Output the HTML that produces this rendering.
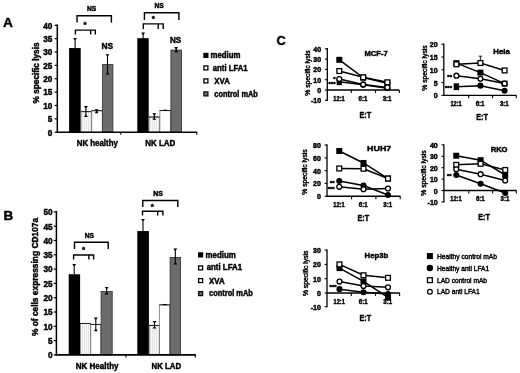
<!DOCTYPE html>
<html lang="en"><head><meta charset="utf-8"><title>Figure</title>
<style>html,body{margin:0;padding:0;background:#fff;overflow:hidden}svg{display:block}text{font-family:'Liberation Sans', sans-serif;font-weight:bold;fill:#000;stroke:#000;stroke-width:0.45px;stroke-linejoin:round}text.n{font-weight:normal;stroke-width:0.42px}</style>
</head><body>
<svg width="520" height="373" viewBox="0 0 520 373">
<defs><pattern id="dots" width="2" height="2" patternUnits="userSpaceOnUse"><rect width="2" height="2" fill="#f8f8f8"/><rect width="1" height="2" fill="#e9e9e9"/><rect width="1" height="1" fill="#dfdfdf"/></pattern>
<filter id="soft" x="0" y="0" width="520" height="373" filterUnits="userSpaceOnUse"><feGaussianBlur stdDeviation="0.35"/></filter></defs>
<rect width="520" height="373" fill="#fff"/>
<g filter="url(#soft)">
<rect width="520" height="373" fill="#fff"/>
<text x="3.0" y="26.5" font-size="13.7">A</text>
<text x="3.4" y="220.3" font-size="13.4">B</text>
<text x="276.6" y="45.2" font-size="12.8">C</text>
<rect x="69.10" y="48.03" width="11.60" height="84.17" fill="#000"/>
<rect x="81.00" y="111.66" width="10.50" height="20.54" fill="url(#dots)" stroke="#6a6a6a" stroke-width="0.7"/>
<line x1="80.70" y1="111.66" x2="91.80" y2="111.66" stroke="#111" stroke-width="0.9"/>
<rect x="91.80" y="110.72" width="10.40" height="21.48" fill="#fff" stroke="#6a6a6a" stroke-width="0.7"/>
<line x1="91.50" y1="110.72" x2="102.50" y2="110.72" stroke="#111" stroke-width="0.9"/>
<rect x="102.60" y="64.46" width="10.30" height="67.74" fill="#6c6c6c" stroke="#2a2a2a" stroke-width="0.8"/>
<line x1="75.10" y1="38.50" x2="75.10" y2="48.00" stroke="#000" stroke-width="1.1"/>
<path d="M73.10,37.90h4.00l-1.50,1.9h-1z" fill="#000"/>
<line x1="85.90" y1="106.60" x2="85.90" y2="116.40" stroke="#000" stroke-width="1.1"/>
<path d="M83.90,106.00h4.00l-1.50,1.9h-1z" fill="#000"/>
<path d="M83.90,117.00h4.00l-1.50,-1.9h-1z" fill="#000"/>
<line x1="96.60" y1="109.90" x2="96.60" y2="112.60" stroke="#000" stroke-width="1.1"/>
<path d="M94.60,109.30h4.00l-1.50,1.9h-1z" fill="#000"/>
<path d="M94.60,113.20h4.00l-1.50,-1.9h-1z" fill="#000"/>
<line x1="107.50" y1="54.80" x2="107.50" y2="74.00" stroke="#000" stroke-width="1.1"/>
<path d="M105.50,54.20h4.00l-1.50,1.9h-1z" fill="#000"/>
<path d="M105.50,74.60h4.00l-1.50,-1.9h-1z" fill="#000"/>
<rect x="137.30" y="38.15" width="11.40" height="94.05" fill="#000"/>
<rect x="149.00" y="117.00" width="10.60" height="15.20" fill="url(#dots)" stroke="#6a6a6a" stroke-width="0.7"/>
<line x1="148.70" y1="117.00" x2="159.90" y2="117.00" stroke="#111" stroke-width="0.9"/>
<rect x="159.90" y="110.59" width="10.60" height="21.61" fill="#fff" stroke="#6a6a6a" stroke-width="0.7"/>
<line x1="159.60" y1="110.59" x2="170.80" y2="110.59" stroke="#111" stroke-width="0.9"/>
<rect x="170.90" y="50.04" width="10.60" height="82.16" fill="#6c6c6c" stroke="#2a2a2a" stroke-width="0.8"/>
<line x1="143.10" y1="33.20" x2="143.10" y2="38.30" stroke="#000" stroke-width="1.1"/>
<path d="M141.10,32.60h4.00l-1.50,1.9h-1z" fill="#000"/>
<line x1="154.30" y1="113.90" x2="154.30" y2="119.20" stroke="#000" stroke-width="1.1"/>
<path d="M152.30,113.30h4.00l-1.50,1.9h-1z" fill="#000"/>
<path d="M152.30,119.80h4.00l-1.50,-1.9h-1z" fill="#000"/>
<line x1="163.40" y1="110.29" x2="167.00" y2="110.29" stroke="#000" stroke-width="1.2"/>
<line x1="176.20" y1="47.60" x2="176.20" y2="51.60" stroke="#000" stroke-width="1.1"/>
<path d="M174.20,47.00h4.00l-1.50,1.9h-1z" fill="#000"/>
<path d="M174.20,52.20h4.00l-1.50,-1.9h-1z" fill="#000"/>
<line x1="57.30" y1="24.42" x2="57.30" y2="133.00" stroke="#000" stroke-width="1.5"/>
<line x1="56.60" y1="132.20" x2="197.20" y2="132.20" stroke="#000" stroke-width="1.6"/>
<line x1="120.80" y1="132.20" x2="120.80" y2="134.70" stroke="#000" stroke-width="1.1"/>
<line x1="196.80" y1="132.20" x2="196.80" y2="134.70" stroke="#000" stroke-width="1.1"/>
<line x1="54.60" y1="132.20" x2="57.30" y2="132.20" stroke="#000" stroke-width="1.2"/>
<text x="52.3" y="135.5" font-size="8.2" text-anchor="end">0</text>
<line x1="54.60" y1="118.84" x2="57.30" y2="118.84" stroke="#000" stroke-width="1.2"/>
<text x="52.3" y="122.13999999999999" font-size="8.2" text-anchor="end">5</text>
<line x1="54.60" y1="105.48" x2="57.30" y2="105.48" stroke="#000" stroke-width="1.2"/>
<text x="52.3" y="108.77999999999999" font-size="8.2" text-anchor="end">10</text>
<line x1="54.60" y1="92.12" x2="57.30" y2="92.12" stroke="#000" stroke-width="1.2"/>
<text x="52.3" y="95.41999999999997" font-size="8.2" text-anchor="end">15</text>
<line x1="54.60" y1="78.76" x2="57.30" y2="78.76" stroke="#000" stroke-width="1.2"/>
<text x="52.3" y="82.05999999999999" font-size="8.2" text-anchor="end">20</text>
<line x1="54.60" y1="65.40" x2="57.30" y2="65.40" stroke="#000" stroke-width="1.2"/>
<text x="52.3" y="68.69999999999999" font-size="8.2" text-anchor="end">25</text>
<line x1="54.60" y1="52.04" x2="57.30" y2="52.04" stroke="#000" stroke-width="1.2"/>
<text x="52.3" y="55.339999999999975" font-size="8.2" text-anchor="end">30</text>
<line x1="54.60" y1="38.68" x2="57.30" y2="38.68" stroke="#000" stroke-width="1.2"/>
<text x="52.3" y="41.979999999999976" font-size="8.2" text-anchor="end">35</text>
<line x1="54.60" y1="25.32" x2="57.30" y2="25.32" stroke="#000" stroke-width="1.2"/>
<text x="52.3" y="28.61999999999998" font-size="8.2" text-anchor="end">40</text>
<text x="39.4" y="72.9" font-size="9.2" text-anchor="middle" textLength="61.0" lengthAdjust="spacingAndGlyphs" transform="rotate(-90 39.4 72.9)">% specific lysis</text>
<text x="76.7" y="146.3" font-size="9.0" textLength="41.2" lengthAdjust="spacingAndGlyphs">NK healthy</text>
<text x="145.3" y="146.3" font-size="9.0" textLength="30.0" lengthAdjust="spacingAndGlyphs">NK LAD</text>
<rect x="203.30" y="52.80" width="5.20" height="5.20" fill="#000"/>
<text x="210.5" y="58.0" font-size="8.4" textLength="30.0" lengthAdjust="spacingAndGlyphs">medium</text>
<rect x="203.90" y="65.90" width="4.00" height="4.00" fill="#fff" stroke="#000" stroke-width="1.3"/>
<text x="212.8" y="70.7" font-size="8.4" textLength="34.8" lengthAdjust="spacingAndGlyphs">anti LFA1</text>
<rect x="203.90" y="78.90" width="4.00" height="4.00" fill="#fff" stroke="#000" stroke-width="1.3"/>
<text x="214.3" y="83.8" font-size="8.4" textLength="15.5" lengthAdjust="spacingAndGlyphs">XVA</text>
<rect x="203.90" y="91.90" width="4.00" height="4.00" fill="#6c6c6c" stroke="#111" stroke-width="1.3"/>
<text x="214.3" y="96.6" font-size="8.4" textLength="43.6" lengthAdjust="spacingAndGlyphs">control mAb</text>
<rect x="68.70" y="274.25" width="11.40" height="80.65" fill="#000"/>
<rect x="80.40" y="323.45" width="10.10" height="31.45" fill="url(#dots)" stroke="#6a6a6a" stroke-width="0.7"/>
<line x1="80.10" y1="323.45" x2="90.80" y2="323.45" stroke="#111" stroke-width="0.9"/>
<rect x="90.80" y="324.45" width="9.90" height="30.44" fill="#fff" stroke="#6a6a6a" stroke-width="0.7"/>
<line x1="90.50" y1="324.45" x2="101.00" y2="324.45" stroke="#111" stroke-width="0.9"/>
<rect x="101.10" y="291.52" width="11.10" height="63.38" fill="#6c6c6c" stroke="#2a2a2a" stroke-width="0.8"/>
<line x1="74.20" y1="264.60" x2="74.20" y2="274.00" stroke="#000" stroke-width="1.1"/>
<path d="M72.20,264.00h4.00l-1.50,1.9h-1z" fill="#000"/>
<line x1="95.80" y1="318.20" x2="95.80" y2="330.60" stroke="#000" stroke-width="1.1"/>
<path d="M93.80,317.60h4.00l-1.50,1.9h-1z" fill="#000"/>
<path d="M93.80,331.20h4.00l-1.50,-1.9h-1z" fill="#000"/>
<line x1="106.60" y1="287.70" x2="106.60" y2="293.80" stroke="#000" stroke-width="1.1"/>
<path d="M104.60,287.10h4.00l-1.50,1.9h-1z" fill="#000"/>
<path d="M104.60,294.40h4.00l-1.50,-1.9h-1z" fill="#000"/>
<rect x="137.30" y="231.06" width="11.60" height="123.84" fill="#000"/>
<rect x="149.20" y="325.46" width="10.10" height="29.44" fill="url(#dots)" stroke="#6a6a6a" stroke-width="0.7"/>
<line x1="148.90" y1="325.46" x2="159.60" y2="325.46" stroke="#111" stroke-width="0.9"/>
<rect x="159.60" y="304.86" width="10.10" height="50.04" fill="#fff" stroke="#6a6a6a" stroke-width="0.7"/>
<line x1="159.30" y1="304.86" x2="170.00" y2="304.86" stroke="#111" stroke-width="0.9"/>
<rect x="170.10" y="257.49" width="10.40" height="97.41" fill="#6c6c6c" stroke="#2a2a2a" stroke-width="0.8"/>
<line x1="143.00" y1="219.50" x2="143.00" y2="231.00" stroke="#000" stroke-width="1.1"/>
<path d="M141.00,218.90h4.00l-1.50,1.9h-1z" fill="#000"/>
<line x1="154.50" y1="321.70" x2="154.50" y2="328.00" stroke="#000" stroke-width="1.1"/>
<path d="M152.50,321.10h4.00l-1.50,1.9h-1z" fill="#000"/>
<path d="M152.50,328.60h4.00l-1.50,-1.9h-1z" fill="#000"/>
<line x1="163.00" y1="304.56" x2="166.60" y2="304.56" stroke="#000" stroke-width="1.2"/>
<line x1="175.30" y1="249.20" x2="175.30" y2="263.90" stroke="#000" stroke-width="1.1"/>
<path d="M173.30,248.60h4.00l-1.50,1.9h-1z" fill="#000"/>
<path d="M173.30,264.50h4.00l-1.50,-1.9h-1z" fill="#000"/>
<line x1="56.40" y1="211.00" x2="56.40" y2="355.70" stroke="#000" stroke-width="1.5"/>
<line x1="55.70" y1="354.90" x2="195.80" y2="354.90" stroke="#000" stroke-width="1.6"/>
<line x1="125.90" y1="354.90" x2="125.90" y2="357.40" stroke="#000" stroke-width="1.1"/>
<line x1="195.30" y1="354.90" x2="195.30" y2="357.40" stroke="#000" stroke-width="1.1"/>
<line x1="53.70" y1="354.90" x2="56.40" y2="354.90" stroke="#000" stroke-width="1.2"/>
<text x="52.6" y="358.2" font-size="8.2" text-anchor="end">0</text>
<line x1="53.70" y1="340.60" x2="56.40" y2="340.60" stroke="#000" stroke-width="1.2"/>
<text x="52.6" y="343.9" font-size="8.2" text-anchor="end">5</text>
<line x1="53.70" y1="326.30" x2="56.40" y2="326.30" stroke="#000" stroke-width="1.2"/>
<text x="52.6" y="329.59999999999997" font-size="8.2" text-anchor="end">10</text>
<line x1="53.70" y1="312.00" x2="56.40" y2="312.00" stroke="#000" stroke-width="1.2"/>
<text x="52.6" y="315.3" font-size="8.2" text-anchor="end">15</text>
<line x1="53.70" y1="297.70" x2="56.40" y2="297.70" stroke="#000" stroke-width="1.2"/>
<text x="52.6" y="301.0" font-size="8.2" text-anchor="end">20</text>
<line x1="53.70" y1="283.40" x2="56.40" y2="283.40" stroke="#000" stroke-width="1.2"/>
<text x="52.6" y="286.7" font-size="8.2" text-anchor="end">25</text>
<line x1="53.70" y1="269.10" x2="56.40" y2="269.10" stroke="#000" stroke-width="1.2"/>
<text x="52.6" y="272.4" font-size="8.2" text-anchor="end">30</text>
<line x1="53.70" y1="254.80" x2="56.40" y2="254.80" stroke="#000" stroke-width="1.2"/>
<text x="52.6" y="258.09999999999997" font-size="8.2" text-anchor="end">35</text>
<line x1="53.70" y1="240.50" x2="56.40" y2="240.50" stroke="#000" stroke-width="1.2"/>
<text x="52.6" y="243.8" font-size="8.2" text-anchor="end">40</text>
<line x1="53.70" y1="226.20" x2="56.40" y2="226.20" stroke="#000" stroke-width="1.2"/>
<text x="52.6" y="229.5" font-size="8.2" text-anchor="end">45</text>
<line x1="53.70" y1="211.90" x2="56.40" y2="211.90" stroke="#000" stroke-width="1.2"/>
<text x="52.6" y="215.2" font-size="8.2" text-anchor="end">50</text>
<text x="38.0" y="277" font-size="9.2" text-anchor="middle" textLength="118.2" lengthAdjust="spacingAndGlyphs" transform="rotate(-90 38.0 277)">% of cells expressing CD107a</text>
<text x="75.8" y="368.9" font-size="9.0" textLength="42.7" lengthAdjust="spacingAndGlyphs">NK Healthy</text>
<text x="151.5" y="368.9" font-size="9.0" textLength="29.6" lengthAdjust="spacingAndGlyphs">NK LAD</text>
<rect x="198.00" y="252.30" width="5.20" height="5.20" fill="#000"/>
<text x="205.6" y="257.8" font-size="8.4" textLength="30.2" lengthAdjust="spacingAndGlyphs">medium</text>
<rect x="198.60" y="265.90" width="4.00" height="4.00" fill="#fff" stroke="#000" stroke-width="1.3"/>
<text x="206.7" y="270.3" font-size="8.4" textLength="35.4" lengthAdjust="spacingAndGlyphs">anti LFA1</text>
<rect x="198.60" y="278.60" width="4.00" height="4.00" fill="#fff" stroke="#000" stroke-width="1.3"/>
<text x="209.0" y="283.8" font-size="8.4" textLength="15.6" lengthAdjust="spacingAndGlyphs">XVA</text>
<rect x="198.60" y="291.60" width="4.00" height="4.00" fill="#6c6c6c" stroke="#111" stroke-width="1.3"/>
<text x="209.0" y="296.2" font-size="8.4" textLength="43.9" lengthAdjust="spacingAndGlyphs">control mAb</text>
<polyline points="77.0,22.4 77.0,15.8 111.4,15.8 111.4,22.4" fill="none" stroke="#000" stroke-width="1.4"/>
<text x="91.6" y="11.2" font-size="6.9" text-anchor="middle" textLength="9.2" lengthAdjust="spacingAndGlyphs">NS</text>
<polyline points="75.4,34.4 75.4,30.1 95.3,30.1 95.3,34.4" fill="none" stroke="#000" stroke-width="1.4"/>
<line x1="90.70" y1="30.10" x2="90.70" y2="34.40" stroke="#000" stroke-width="1.4"/>
<text x="85.1" y="26.80" font-size="8" text-anchor="middle" stroke="#000" stroke-width="0.6">*</text>
<text x="107.4" y="48.9" font-size="8.5" text-anchor="middle" textLength="11.6" lengthAdjust="spacingAndGlyphs">NS</text>
<polyline points="144.4,20.0 144.4,12.8 178.9,12.8 178.9,20.0" fill="none" stroke="#000" stroke-width="1.4"/>
<text x="159.0" y="7.5" font-size="6.9" text-anchor="middle" textLength="9.2" lengthAdjust="spacingAndGlyphs">NS</text>
<polyline points="143.3,28.9 143.3,23.9 163.2,23.9 163.2,28.9" fill="none" stroke="#000" stroke-width="1.4"/>
<line x1="158.20" y1="23.90" x2="158.20" y2="28.90" stroke="#000" stroke-width="1.4"/>
<text x="153.2" y="21.20" font-size="8" text-anchor="middle" stroke="#000" stroke-width="0.6">*</text>
<text x="175.5" y="42.8" font-size="8.5" text-anchor="middle" textLength="11.2" lengthAdjust="spacingAndGlyphs">NS</text>
<polyline points="74.5,249.1 74.5,242.3 108.2,242.3 108.2,249.1" fill="none" stroke="#000" stroke-width="1.4"/>
<text x="89.4" y="238.3" font-size="6.9" text-anchor="middle" textLength="9.2" lengthAdjust="spacingAndGlyphs">NS</text>
<polyline points="73.6,259.4 73.6,255.0 93.6,255.0 93.6,259.4" fill="none" stroke="#000" stroke-width="1.4"/>
<line x1="88.90" y1="255.00" x2="88.90" y2="259.40" stroke="#000" stroke-width="1.4"/>
<text x="83.6" y="252.30" font-size="8" text-anchor="middle" stroke="#000" stroke-width="0.6">*</text>
<polyline points="142.8,207 142.8,200.5 177.8,200.5 177.8,207" fill="none" stroke="#000" stroke-width="1.4"/>
<text x="158.1" y="195.7" font-size="6.9" text-anchor="middle" textLength="9.6" lengthAdjust="spacingAndGlyphs">NS</text>
<polyline points="142.5,215.5 142.5,211.3 162.9,211.3 162.9,215.5" fill="none" stroke="#000" stroke-width="1.4"/>
<line x1="157.70" y1="211.30" x2="157.70" y2="215.50" stroke="#000" stroke-width="1.4"/>
<text x="152.4" y="208.80" font-size="8" text-anchor="middle" stroke="#000" stroke-width="0.6">*</text>
<line x1="327.30" y1="48.10" x2="327.30" y2="100.90" stroke="#000" stroke-width="1.3"/>
<line x1="327.30" y1="90.00" x2="399.30" y2="90.00" stroke="#000" stroke-width="1.3"/>
<line x1="351.30" y1="90.00" x2="351.30" y2="92.90" stroke="#000" stroke-width="1.1"/>
<line x1="375.50" y1="90.00" x2="375.50" y2="92.90" stroke="#000" stroke-width="1.1"/>
<line x1="399.30" y1="90.00" x2="399.30" y2="92.90" stroke="#000" stroke-width="1.1"/>
<line x1="324.90" y1="100.30" x2="327.30" y2="100.30" stroke="#000" stroke-width="1.1"/>
<text x="321.1" y="103.3" font-size="7.0" text-anchor="end">-10</text>
<line x1="324.90" y1="90.00" x2="327.30" y2="90.00" stroke="#000" stroke-width="1.1"/>
<text x="321.1" y="93.0" font-size="7.0" text-anchor="end">0</text>
<line x1="324.90" y1="79.70" x2="327.30" y2="79.70" stroke="#000" stroke-width="1.1"/>
<text x="321.1" y="82.7" font-size="7.0" text-anchor="end">10</text>
<line x1="324.90" y1="69.40" x2="327.30" y2="69.40" stroke="#000" stroke-width="1.1"/>
<text x="321.1" y="72.4" font-size="7.0" text-anchor="end">20</text>
<line x1="324.90" y1="59.10" x2="327.30" y2="59.10" stroke="#000" stroke-width="1.1"/>
<text x="321.1" y="62.099999999999994" font-size="7.0" text-anchor="end">30</text>
<line x1="324.90" y1="48.80" x2="327.30" y2="48.80" stroke="#000" stroke-width="1.1"/>
<text x="321.1" y="51.8" font-size="7.0" text-anchor="end">40</text>
<text x="339.0" y="100.5" font-size="6.8" text-anchor="middle" textLength="11.4" lengthAdjust="spacingAndGlyphs">12:1</text>
<text x="362.9" y="100.5" font-size="6.8" text-anchor="middle" textLength="8.8" lengthAdjust="spacingAndGlyphs">6:1</text>
<text x="387.09999999999997" y="100.5" font-size="6.8" text-anchor="middle" textLength="8.8" lengthAdjust="spacingAndGlyphs">3:1</text>
<text x="365.35" y="117.9" font-size="8.6" text-anchor="middle" textLength="11.6" lengthAdjust="spacingAndGlyphs">E:T</text>
<text x="309.6" y="73" font-size="6.7" class="n" text-anchor="middle" textLength="45.5" lengthAdjust="spacingAndGlyphs" transform="rotate(-90 309.6 73)">% specific lysis</text>
<text x="376.1" y="56.15" font-size="8.0" text-anchor="middle" textLength="23.3" lengthAdjust="spacingAndGlyphs">MCF-7</text>
<polyline points="339.30,59.82 363.20,77.64 387.40,83.31" fill="none" stroke="#000" stroke-width="1.5"/>
<polyline points="339.30,81.76 363.20,84.85 387.40,88.15" fill="none" stroke="#000" stroke-width="1.5"/>
<polyline points="339.30,71.05 363.20,77.33 387.40,82.28" fill="none" stroke="#000" stroke-width="1.5"/>
<polyline points="339.30,78.98 363.20,84.44 387.40,87.42" fill="none" stroke="#000" stroke-width="1.5"/>
<rect x="336.30" y="56.82" width="6.00" height="6.00" fill="#000"/>
<rect x="360.20" y="74.64" width="6.00" height="6.00" fill="#000"/>
<rect x="384.40" y="80.31" width="6.00" height="6.00" fill="#000"/>
<rect x="336.60" y="78.36" width="5.40" height="6.80" fill="#000"/>
<circle cx="363.20" cy="84.85" r="3.05" fill="#000"/>
<circle cx="387.40" cy="88.15" r="3.05" fill="#000"/>
<rect x="336.90" y="68.65" width="4.80" height="4.80" fill="#fff" stroke="#000" stroke-width="1.3"/>
<rect x="360.80" y="74.93" width="4.80" height="4.80" fill="#fff" stroke="#000" stroke-width="1.3"/>
<rect x="385.00" y="79.88" width="4.80" height="4.80" fill="#fff" stroke="#000" stroke-width="1.3"/>
<circle cx="339.30" cy="78.98" r="2.45" fill="#fff" stroke="#000" stroke-width="1.3"/>
<circle cx="363.20" cy="84.44" r="2.45" fill="#fff" stroke="#000" stroke-width="1.3"/>
<circle cx="387.40" cy="87.42" r="2.45" fill="#fff" stroke="#000" stroke-width="1.3"/>
<text x="335.6" y="80.90" font-size="6.0" text-anchor="end" stroke="#000" stroke-width="0.5">*</text>
<text x="335.6" y="86.30" font-size="6.0" text-anchor="end" stroke="#000" stroke-width="0.5">***</text>
<line x1="443.80" y1="43.50" x2="443.80" y2="96.00" stroke="#000" stroke-width="1.3"/>
<line x1="443.80" y1="95.40" x2="516.50" y2="95.40" stroke="#000" stroke-width="1.3"/>
<line x1="468.70" y1="95.40" x2="468.70" y2="98.30" stroke="#000" stroke-width="1.1"/>
<line x1="492.60" y1="95.40" x2="492.60" y2="98.30" stroke="#000" stroke-width="1.1"/>
<line x1="516.30" y1="95.40" x2="516.30" y2="98.30" stroke="#000" stroke-width="1.1"/>
<line x1="441.40" y1="95.40" x2="443.80" y2="95.40" stroke="#000" stroke-width="1.1"/>
<text x="437.6" y="98.4" font-size="7.0" text-anchor="end">0</text>
<line x1="441.40" y1="82.60" x2="443.80" y2="82.60" stroke="#000" stroke-width="1.1"/>
<text x="437.6" y="85.60000000000001" font-size="7.0" text-anchor="end">5</text>
<line x1="441.40" y1="69.80" x2="443.80" y2="69.80" stroke="#000" stroke-width="1.1"/>
<text x="437.6" y="72.80000000000001" font-size="7.0" text-anchor="end">10</text>
<line x1="441.40" y1="57.00" x2="443.80" y2="57.00" stroke="#000" stroke-width="1.1"/>
<text x="437.6" y="60.00000000000001" font-size="7.0" text-anchor="end">15</text>
<line x1="441.40" y1="44.20" x2="443.80" y2="44.20" stroke="#000" stroke-width="1.1"/>
<text x="437.6" y="47.2" font-size="7.0" text-anchor="end">20</text>
<text x="456.09999999999997" y="106.0" font-size="6.8" text-anchor="middle" textLength="11.4" lengthAdjust="spacingAndGlyphs">12:1</text>
<text x="480.09999999999997" y="106.0" font-size="6.8" text-anchor="middle" textLength="8.8" lengthAdjust="spacingAndGlyphs">6:1</text>
<text x="504.3" y="106.0" font-size="6.8" text-anchor="middle" textLength="8.8" lengthAdjust="spacingAndGlyphs">3:1</text>
<text x="482.1" y="120.4" font-size="8.6" text-anchor="middle" textLength="11.6" lengthAdjust="spacingAndGlyphs">E:T</text>
<text x="426.6" y="68" font-size="6.7" class="n" text-anchor="middle" textLength="45.5" lengthAdjust="spacingAndGlyphs" transform="rotate(-90 426.6 68)">% specific lysis</text>
<text x="501.6" y="54.25" font-size="8.0" text-anchor="middle" textLength="16.6" lengthAdjust="spacingAndGlyphs">Hela</text>
<polyline points="456.40,63.14 480.40,72.62 504.60,83.62" fill="none" stroke="#000" stroke-width="1.5"/>
<polyline points="456.40,86.70 480.40,85.67 504.60,90.79" fill="none" stroke="#000" stroke-width="1.5"/>
<polyline points="456.40,64.30 480.40,63.02 504.60,70.44" fill="none" stroke="#000" stroke-width="1.5"/>
<polyline points="456.40,75.69 480.40,78.76 504.60,83.50" fill="none" stroke="#000" stroke-width="1.5"/>
<line x1="480.40" y1="56.20" x2="480.40" y2="62.50" stroke="#000" stroke-width="0.9"/>
<line x1="478.80" y1="56.20" x2="482.00" y2="56.20" stroke="#000" stroke-width="0.9"/>
<rect x="453.40" y="60.14" width="6.00" height="6.00" fill="#000"/>
<rect x="477.40" y="69.62" width="6.00" height="6.00" fill="#000"/>
<rect x="501.60" y="80.62" width="6.00" height="6.00" fill="#000"/>
<rect x="453.70" y="83.30" width="5.40" height="6.80" fill="#000"/>
<circle cx="480.40" cy="85.67" r="3.05" fill="#000"/>
<circle cx="504.60" cy="90.79" r="3.05" fill="#000"/>
<rect x="454.00" y="61.90" width="4.80" height="4.80" fill="#fff" stroke="#000" stroke-width="1.3"/>
<rect x="478.00" y="60.62" width="4.80" height="4.80" fill="#fff" stroke="#000" stroke-width="1.3"/>
<rect x="502.20" y="68.04" width="4.80" height="4.80" fill="#fff" stroke="#000" stroke-width="1.3"/>
<circle cx="456.40" cy="75.69" r="2.45" fill="#fff" stroke="#000" stroke-width="1.3"/>
<circle cx="480.40" cy="78.76" r="2.45" fill="#fff" stroke="#000" stroke-width="1.3"/>
<circle cx="504.60" cy="83.50" r="2.45" fill="#fff" stroke="#000" stroke-width="1.3"/>
<text x="452.0" y="79.00" font-size="6.0" text-anchor="end" stroke="#000" stroke-width="0.5">**</text>
<text x="452.0" y="90.10" font-size="6.0" text-anchor="end" stroke="#000" stroke-width="0.5">***</text>
<line x1="327.00" y1="144.35" x2="327.00" y2="196.85" stroke="#000" stroke-width="1.3"/>
<line x1="327.00" y1="196.25" x2="400.40" y2="196.25" stroke="#000" stroke-width="1.3"/>
<line x1="351.60" y1="196.25" x2="351.60" y2="199.15" stroke="#000" stroke-width="1.1"/>
<line x1="375.90" y1="196.25" x2="375.90" y2="199.15" stroke="#000" stroke-width="1.1"/>
<line x1="400.20" y1="196.25" x2="400.20" y2="199.15" stroke="#000" stroke-width="1.1"/>
<line x1="324.60" y1="196.25" x2="327.00" y2="196.25" stroke="#000" stroke-width="1.1"/>
<text x="320.8" y="199.25" font-size="7.0" text-anchor="end">0</text>
<line x1="324.60" y1="183.45" x2="327.00" y2="183.45" stroke="#000" stroke-width="1.1"/>
<text x="320.8" y="186.45" font-size="7.0" text-anchor="end">20</text>
<line x1="324.60" y1="170.65" x2="327.00" y2="170.65" stroke="#000" stroke-width="1.1"/>
<text x="320.8" y="173.65" font-size="7.0" text-anchor="end">40</text>
<line x1="324.60" y1="157.85" x2="327.00" y2="157.85" stroke="#000" stroke-width="1.1"/>
<text x="320.8" y="160.85" font-size="7.0" text-anchor="end">60</text>
<line x1="324.60" y1="145.05" x2="327.00" y2="145.05" stroke="#000" stroke-width="1.1"/>
<text x="320.8" y="148.05" font-size="7.0" text-anchor="end">80</text>
<text x="338.95" y="207.2" font-size="6.8" text-anchor="middle" textLength="11.4" lengthAdjust="spacingAndGlyphs">12:1</text>
<text x="363.2" y="207.2" font-size="6.8" text-anchor="middle" textLength="8.8" lengthAdjust="spacingAndGlyphs">6:1</text>
<text x="387.7" y="207.2" font-size="6.8" text-anchor="middle" textLength="8.8" lengthAdjust="spacingAndGlyphs">3:1</text>
<text x="363.35" y="220.6" font-size="8.6" text-anchor="middle" textLength="11.6" lengthAdjust="spacingAndGlyphs">E:T</text>
<text x="307.1" y="172" font-size="6.7" class="n" text-anchor="middle" textLength="45.5" lengthAdjust="spacingAndGlyphs" transform="rotate(-90 307.1 172)">% specific lysis</text>
<text x="379.2" y="151.45" font-size="8.0" text-anchor="middle" textLength="24.2" lengthAdjust="spacingAndGlyphs">HUH7</text>
<polyline points="339.25,151.00 363.50,162.97 388.00,178.52" fill="none" stroke="#000" stroke-width="1.5"/>
<polyline points="339.25,181.02 363.50,185.50 388.00,194.97" fill="none" stroke="#000" stroke-width="1.5"/>
<polyline points="339.25,168.47 363.50,168.73 388.00,178.52" fill="none" stroke="#000" stroke-width="1.5"/>
<polyline points="339.25,186.78 363.50,189.21 388.00,188.51" fill="none" stroke="#000" stroke-width="1.5"/>
<rect x="336.25" y="148.00" width="6.00" height="6.00" fill="#000"/>
<rect x="360.50" y="159.97" width="6.00" height="6.00" fill="#000"/>
<rect x="385.00" y="175.52" width="6.00" height="6.00" fill="#000"/>
<circle cx="339.25" cy="181.02" r="3.05" fill="#000"/>
<circle cx="363.50" cy="185.50" r="3.05" fill="#000"/>
<circle cx="388.00" cy="194.97" r="3.05" fill="#000"/>
<rect x="336.85" y="166.07" width="4.80" height="4.80" fill="#fff" stroke="#000" stroke-width="1.3"/>
<rect x="361.10" y="166.33" width="4.80" height="4.80" fill="#fff" stroke="#000" stroke-width="1.3"/>
<rect x="385.60" y="176.12" width="4.80" height="4.80" fill="#fff" stroke="#000" stroke-width="1.3"/>
<circle cx="339.25" cy="186.78" r="2.45" fill="#fff" stroke="#000" stroke-width="1.3"/>
<circle cx="363.50" cy="189.21" r="2.45" fill="#fff" stroke="#000" stroke-width="1.3"/>
<circle cx="388.00" cy="188.51" r="2.45" fill="#fff" stroke="#000" stroke-width="1.3"/>
<text x="334.7" y="185.05" font-size="6.0" text-anchor="end" stroke="#000" stroke-width="0.5">**</text>
<text x="334.7" y="190.80" font-size="6.0" text-anchor="end" stroke="#000" stroke-width="0.5">***</text>
<line x1="443.90" y1="144.20" x2="443.90" y2="202.50" stroke="#000" stroke-width="1.3"/>
<line x1="443.90" y1="190.50" x2="516.50" y2="190.50" stroke="#000" stroke-width="1.3"/>
<line x1="468.80" y1="190.50" x2="468.80" y2="193.40" stroke="#000" stroke-width="1.1"/>
<line x1="492.60" y1="190.50" x2="492.60" y2="193.40" stroke="#000" stroke-width="1.1"/>
<line x1="516.30" y1="190.50" x2="516.30" y2="193.40" stroke="#000" stroke-width="1.1"/>
<line x1="441.50" y1="201.90" x2="443.90" y2="201.90" stroke="#000" stroke-width="1.1"/>
<text x="437.7" y="204.9" font-size="7.0" text-anchor="end">-10</text>
<line x1="441.50" y1="190.50" x2="443.90" y2="190.50" stroke="#000" stroke-width="1.1"/>
<text x="437.7" y="193.5" font-size="7.0" text-anchor="end">0</text>
<line x1="441.50" y1="179.10" x2="443.90" y2="179.10" stroke="#000" stroke-width="1.1"/>
<text x="437.7" y="182.1" font-size="7.0" text-anchor="end">10</text>
<line x1="441.50" y1="167.70" x2="443.90" y2="167.70" stroke="#000" stroke-width="1.1"/>
<text x="437.7" y="170.7" font-size="7.0" text-anchor="end">20</text>
<line x1="441.50" y1="156.30" x2="443.90" y2="156.30" stroke="#000" stroke-width="1.1"/>
<text x="437.7" y="159.3" font-size="7.0" text-anchor="end">30</text>
<line x1="441.50" y1="144.90" x2="443.90" y2="144.90" stroke="#000" stroke-width="1.1"/>
<text x="437.7" y="147.9" font-size="7.0" text-anchor="end">40</text>
<text x="455.95" y="201.1" font-size="6.8" text-anchor="middle" textLength="11.4" lengthAdjust="spacingAndGlyphs">12:1</text>
<text x="480.3" y="201.1" font-size="6.8" text-anchor="middle" textLength="8.8" lengthAdjust="spacingAndGlyphs">6:1</text>
<text x="504.9" y="201.1" font-size="6.8" text-anchor="middle" textLength="8.8" lengthAdjust="spacingAndGlyphs">3:1</text>
<text x="484.1" y="219.6" font-size="8.6" text-anchor="middle" textLength="11.6" lengthAdjust="spacingAndGlyphs">E:T</text>
<text x="425.8" y="173" font-size="6.7" class="n" text-anchor="middle" textLength="45.5" lengthAdjust="spacingAndGlyphs" transform="rotate(-90 425.8 173)">% specific lysis</text>
<text x="499.1" y="152.25" font-size="8.0" text-anchor="middle" textLength="16.9" lengthAdjust="spacingAndGlyphs">RKO</text>
<polyline points="456.25,155.73 480.60,160.18 505.20,175.00" fill="none" stroke="#000" stroke-width="1.5"/>
<polyline points="456.25,175.00 480.60,183.77 505.20,193.01" fill="none" stroke="#000" stroke-width="1.5"/>
<polyline points="456.25,164.85 480.60,163.82 505.20,169.98" fill="none" stroke="#000" stroke-width="1.5"/>
<polyline points="456.25,169.30 480.60,174.20 505.20,180.47" fill="none" stroke="#000" stroke-width="1.5"/>
<rect x="453.25" y="152.73" width="6.00" height="6.00" fill="#000"/>
<rect x="477.60" y="157.18" width="6.00" height="6.00" fill="#000"/>
<rect x="502.20" y="172.00" width="6.00" height="6.00" fill="#000"/>
<circle cx="456.25" cy="175.00" r="3.05" fill="#000"/>
<circle cx="480.60" cy="183.77" r="3.05" fill="#000"/>
<circle cx="505.20" cy="193.01" r="3.05" fill="#000"/>
<rect x="453.85" y="162.45" width="4.80" height="4.80" fill="#fff" stroke="#000" stroke-width="1.3"/>
<rect x="478.20" y="161.42" width="4.80" height="4.80" fill="#fff" stroke="#000" stroke-width="1.3"/>
<rect x="502.80" y="167.58" width="4.80" height="4.80" fill="#fff" stroke="#000" stroke-width="1.3"/>
<circle cx="456.25" cy="169.30" r="2.45" fill="#fff" stroke="#000" stroke-width="1.3"/>
<circle cx="480.60" cy="174.20" r="2.45" fill="#fff" stroke="#000" stroke-width="1.3"/>
<circle cx="505.20" cy="180.47" r="2.45" fill="#fff" stroke="#000" stroke-width="1.3"/>
<text x="451.6" y="178.05" font-size="6.0" text-anchor="end" stroke="#000" stroke-width="0.5">**</text>
<line x1="327.00" y1="249.40" x2="327.00" y2="307.30" stroke="#000" stroke-width="1.3"/>
<line x1="327.00" y1="293.00" x2="399.80" y2="293.00" stroke="#000" stroke-width="1.3"/>
<line x1="351.30" y1="293.00" x2="351.30" y2="295.90" stroke="#000" stroke-width="1.1"/>
<line x1="375.50" y1="293.00" x2="375.50" y2="295.90" stroke="#000" stroke-width="1.1"/>
<line x1="399.60" y1="293.00" x2="399.60" y2="295.90" stroke="#000" stroke-width="1.1"/>
<line x1="324.60" y1="306.70" x2="327.00" y2="306.70" stroke="#000" stroke-width="1.1"/>
<text x="320.8" y="309.7" font-size="7.0" text-anchor="end">-10</text>
<line x1="324.60" y1="293.00" x2="327.00" y2="293.00" stroke="#000" stroke-width="1.1"/>
<text x="320.8" y="296.0" font-size="7.0" text-anchor="end">0</text>
<line x1="324.60" y1="278.70" x2="327.00" y2="278.70" stroke="#000" stroke-width="1.1"/>
<text x="320.8" y="281.7" font-size="7.0" text-anchor="end">10</text>
<line x1="324.60" y1="264.40" x2="327.00" y2="264.40" stroke="#000" stroke-width="1.1"/>
<text x="320.8" y="267.4" font-size="7.0" text-anchor="end">20</text>
<line x1="324.60" y1="250.10" x2="327.00" y2="250.10" stroke="#000" stroke-width="1.1"/>
<text x="320.8" y="253.1" font-size="7.0" text-anchor="end">30</text>
<text x="339.2" y="303.75" font-size="6.8" text-anchor="middle" textLength="11.4" lengthAdjust="spacingAndGlyphs">12:1</text>
<text x="363.2" y="303.75" font-size="6.8" text-anchor="middle" textLength="8.8" lengthAdjust="spacingAndGlyphs">6:1</text>
<text x="387.7" y="303.75" font-size="6.8" text-anchor="middle" textLength="8.8" lengthAdjust="spacingAndGlyphs">3:1</text>
<text x="365.35" y="320.9" font-size="8.6" text-anchor="middle" textLength="11.6" lengthAdjust="spacingAndGlyphs">E:T</text>
<text x="307.8" y="273.3" font-size="6.7" class="n" text-anchor="middle" textLength="45.5" lengthAdjust="spacingAndGlyphs" transform="rotate(-90 307.8 273.3)">% specific lysis</text>
<text x="376.4" y="257.6" font-size="8.0" text-anchor="middle" textLength="23.6" lengthAdjust="spacingAndGlyphs">Hep3b</text>
<polyline points="339.50,268.12 363.50,281.42 388.00,297.29" fill="none" stroke="#000" stroke-width="1.5"/>
<polyline points="339.50,289.14 363.50,292.29 388.00,294.00" fill="none" stroke="#000" stroke-width="1.5"/>
<polyline points="339.50,264.40 363.50,275.27 388.00,277.84" fill="none" stroke="#000" stroke-width="1.5"/>
<polyline points="339.50,281.56 363.50,285.99 388.00,287.28" fill="none" stroke="#000" stroke-width="1.5"/>
<rect x="336.50" y="265.12" width="6.00" height="6.00" fill="#000"/>
<rect x="360.50" y="278.42" width="6.00" height="6.00" fill="#000"/>
<rect x="385.00" y="294.29" width="6.00" height="6.00" fill="#000"/>
<circle cx="339.50" cy="289.14" r="3.05" fill="#000"/>
<circle cx="363.50" cy="292.29" r="3.05" fill="#000"/>
<circle cx="388.00" cy="294.00" r="3.05" fill="#000"/>
<rect x="337.10" y="262.00" width="4.80" height="4.80" fill="#fff" stroke="#000" stroke-width="1.3"/>
<rect x="361.10" y="272.87" width="4.80" height="4.80" fill="#fff" stroke="#000" stroke-width="1.3"/>
<rect x="385.60" y="275.44" width="4.80" height="4.80" fill="#fff" stroke="#000" stroke-width="1.3"/>
<circle cx="339.50" cy="281.56" r="2.45" fill="#fff" stroke="#000" stroke-width="1.3"/>
<circle cx="363.50" cy="285.99" r="2.45" fill="#fff" stroke="#000" stroke-width="1.3"/>
<circle cx="388.00" cy="287.28" r="2.45" fill="#fff" stroke="#000" stroke-width="1.3"/>
<text x="336.6" y="289.30" font-size="6.0" text-anchor="end" stroke="#000" stroke-width="0.5">***</text>
<rect x="426.90" y="253.10" width="6.00" height="6.00" fill="#000"/>
<text x="437" y="258.6" font-size="7.0" class="n" textLength="60.0" lengthAdjust="spacingAndGlyphs">Healthy control mAb</text>
<circle cx="429.9" cy="268.0" r="3.2" fill="#000"/>
<text x="437" y="270.5" font-size="7.0" class="n" textLength="52.2" lengthAdjust="spacingAndGlyphs">Healthy anti LFA1</text>
<rect x="427.50" y="277.80" width="4.80" height="4.80" fill="#fff" stroke="#000" stroke-width="1.3"/>
<text x="437" y="282.7" font-size="7.0" class="n" textLength="50.0" lengthAdjust="spacingAndGlyphs">LAD control mAb</text>
<circle cx="429.9" cy="291.7" r="2.4" fill="#fff" stroke="#000" stroke-width="1.2"/>
<text x="437" y="294.2" font-size="7.0" class="n" textLength="42.7" lengthAdjust="spacingAndGlyphs">LAD anti LFA1</text>
</g></svg></body></html>
